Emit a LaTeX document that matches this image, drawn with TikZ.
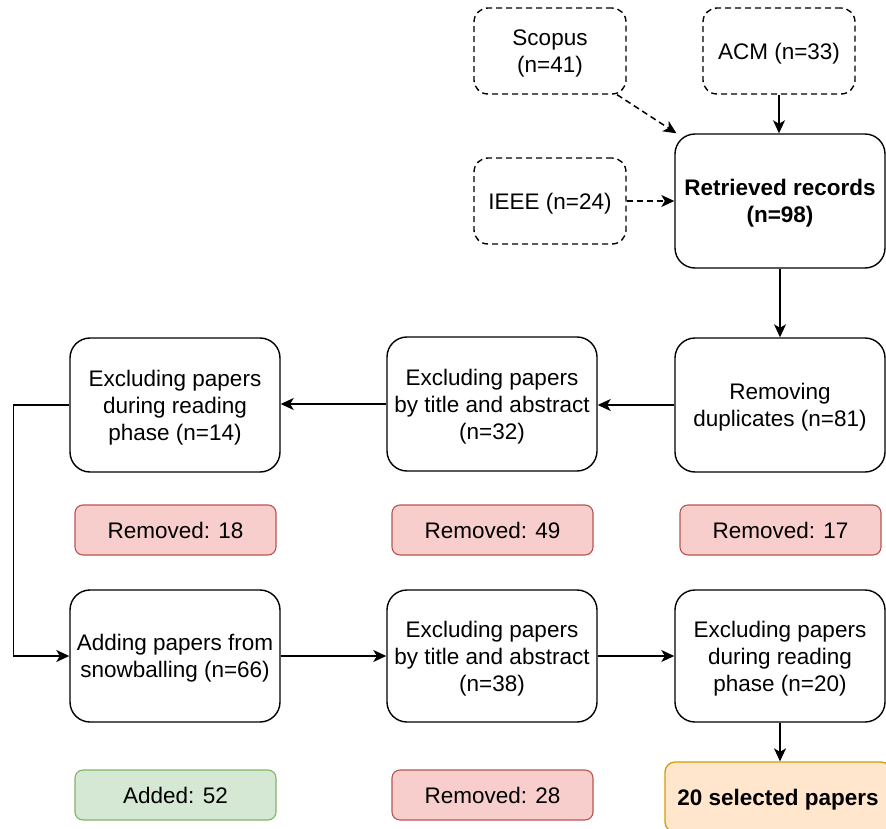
\documentclass[tikz,border=0pt]{standalone}
\usepackage{fontspec}
\setmainfont{Liberation Sans}
\usetikzlibrary{arrows.meta}
\definecolor{redfill}{HTML}{F8CECC}
\definecolor{redline}{HTML}{B85450}
\definecolor{greenfill}{HTML}{D5E8D4}
\definecolor{greenline}{HTML}{82B366}
\definecolor{orangefill}{HTML}{FFE6CC}
\definecolor{orangeline}{HTML}{D79B00}
\tikzset{
  base/.style={draw, line width=1.4pt, align=center, inner sep=0pt, text depth=0pt,
    font=\fontsize{22.5}{27}\selectfont},
  srcbox/.style={base, dash pattern=on 6pt off 4pt, rounded corners=14pt,
    minimum width=152pt, minimum height=86pt},
  bigbox/.style={base, rounded corners=20pt, minimum width=210pt, minimum height=134pt},
  midbox/.style={base, rounded corners=20pt, minimum width=210pt, minimum height=132pt},
  redbox/.style={base, line width=1.1pt, draw=redline, fill=redfill, rounded corners=8pt,
    minimum width=201pt, minimum height=50pt},
  greenbox/.style={base, line width=1.1pt, draw=greenline, fill=greenfill, rounded corners=8pt,
    minimum width=201pt, minimum height=50pt},
  selbox/.style={base, line width=1.3pt, draw=orangeline, fill=orangefill, rounded corners=10pt,
    minimum width=226pt, minimum height=70pt},
  arr/.style={line width=1.5pt, -{Stealth[length=13pt,width=12pt,inset=3.5pt]}},
  darr/.style={arr, dash pattern=on 6pt off 4pt},
}
\begin{document}
\begin{tikzpicture}[x=1pt,y=-1pt]
\useasboundingbox (0,0) rectangle (886,829);
\clip (0,0) rectangle (886,829);
\node[srcbox] (scopus) at (550,51) {Scopus\\(n=41)};
\node[srcbox] (acm) at (779,51) {ACM (n=33)};
\node[srcbox] (ieee) at (550,201) {IEEE (n=24)};
\node[bigbox] (ret) at (780,201) {\textbf{Retrieved records}\\\textbf{(n=98)}};
\node[bigbox] (dup) at (780,405) {Removing\\duplicates (n=81)};
\node[bigbox] (ex32) at (492,404) {Excluding papers\\by title and abstract\\(n=32)};
\node[bigbox] (ex14) at (175,405) {Excluding papers\\during reading\\phase (n=14)};
\node[redbox] (r18) at (175.5,530) {Removed: 18};
\node[redbox] (r49) at (492.5,530) {Removed: 49};
\node[redbox] (r17) at (780.5,530) {Removed: 17};
\node[midbox] (add) at (175,656) {Adding papers from\\snowballing (n=66)};
\node[midbox] (ex38) at (492,656) {Excluding papers\\by title and abstract\\(n=38)};
\node[midbox] (ex20) at (780,656) {Excluding papers\\during reading\\phase (n=20)};
\node[greenbox] (a52) at (175.5,795) {Added: 52};
\node[redbox] (r28) at (492.5,795) {Removed: 28};
\node[selbox] (sel) at (778,797) {\textbf{20 selected papers}};
\draw[darr] (scopus) -- (ret);
\draw[arr] (acm.south) -- (ret.north -| acm.south);
\draw[darr] (ieee.east) -- (ret.west);
\draw[arr] (ret.south) -- (dup.north);
\draw[arr] (dup.west) -- (ex32.east |- dup.west);
\draw[arr] (ex32.west) -- (ex14.east |- ex32.west);
\draw[arr] (ex14.west) -- ++(-56,0) |- (add.west);
\draw[arr] (add.east) -- (ex38.west);
\draw[arr] (ex38.east) -- (ex20.west);
\draw[arr] (ex20.south) -- (sel.north -| ex20.south);
\end{tikzpicture}
\end{document}
